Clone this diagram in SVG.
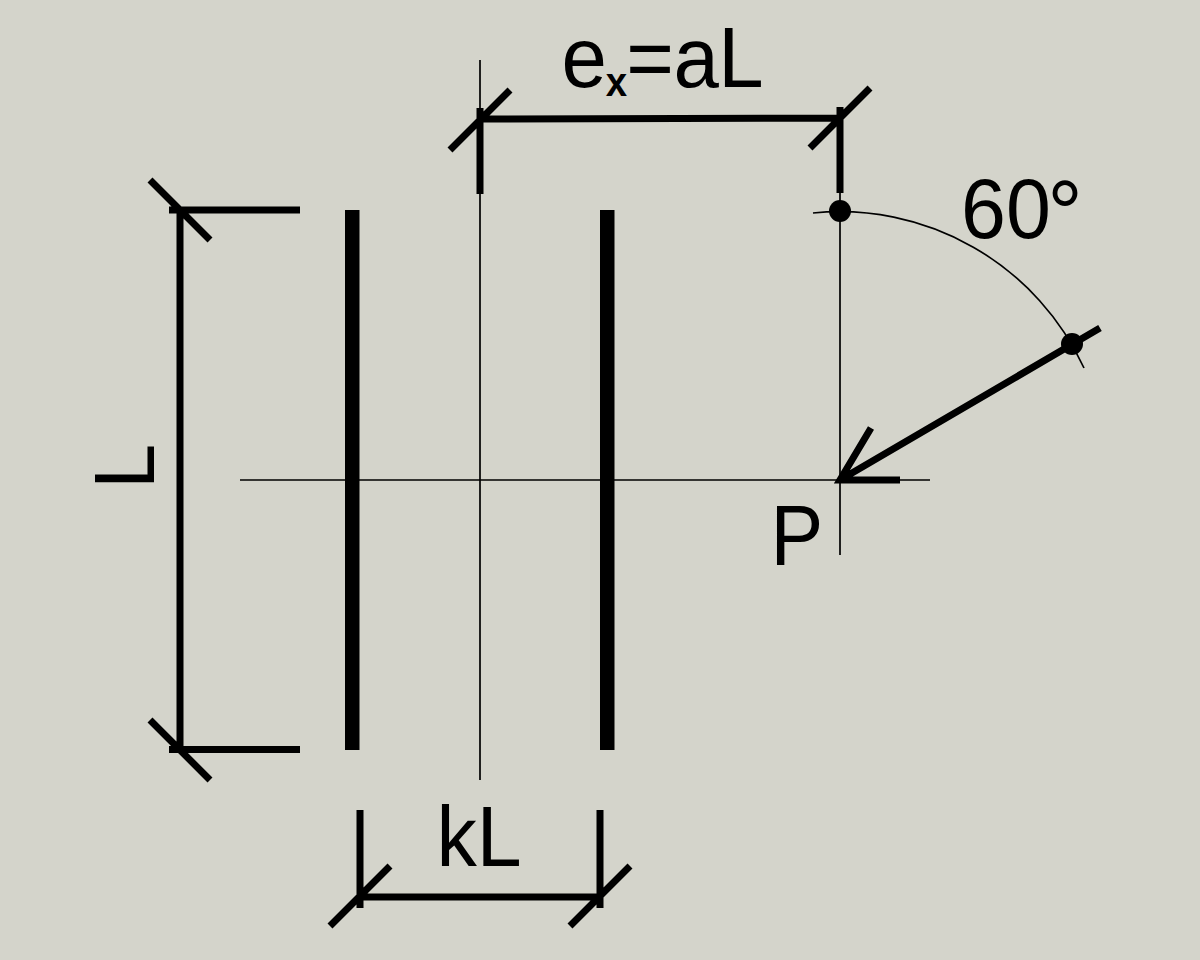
<svg xmlns="http://www.w3.org/2000/svg" width="1200" height="960" viewBox="0 0 1200 960">
<style>
.thin{stroke:#000;stroke-width:1.7;fill:none}
.mid{stroke:#000;stroke-width:7;fill:none}
.wall{fill:#000}
.t{font-family:"Liberation Sans",Arial,sans-serif;font-size:85px;fill:#000}
.s{font-size:40px;font-weight:bold}
.deg{font-family:"Lato",sans-serif;font-size:80px}
</style>
<rect width="1200" height="960" fill="#d4d4cb"/>
<g id="walls">
<rect class="wall" x="345" y="210" width="14.500" height="540"/>
<rect class="wall" x="600" y="210" width="14.500" height="540"/>
</g>
<g id="connectors">
<path class="thin" d="M480 60V780M240 480H930M840 193V555"/>
<path class="thin" d="M813 213A269 269 0 0 1 1084 368"/>
<path class="mid" d="M480 119L840 118M480 108V194M840 107V193M450 150L510 90M810 148L870 88"/>
<path class="mid" d="M180 210V750M169 210H300M169 749.500H300M150 180L210 240M150 720L210 780"/>
<path class="mid" d="M360 810V908M600 810V908M360 897H600M330 926L390 866M570 926L630 866"/>
<path class="mid" d="M1100 328L840 480M871 428L840 480H900"/>
<circle cx="840" cy="211" r="11"/>
<circle cx="1072" cy="344" r="11"/>
</g>
<g id="labels">
<text class="t" transform="scale(.96 1)" x="585" y="87">e<tspan class="s" x="631" y="96">x</tspan><tspan x="652.300 701.700 748.200" y="87">=aL</tspan></text>
<text class="t" transform="translate(961 238) scale(.95 1)">60<tspan class="deg" x="93">°</tspan></text>
<text class="t" transform="translate(770.500 565) scale(.93 1)">P</text>
<text class="t" transform="translate(436.500 866) scale(.95 1)">kL</text>
<text class="t" transform="translate(154 488.700) rotate(-90) scale(.95 1)">L</text>
</g>
</svg>
